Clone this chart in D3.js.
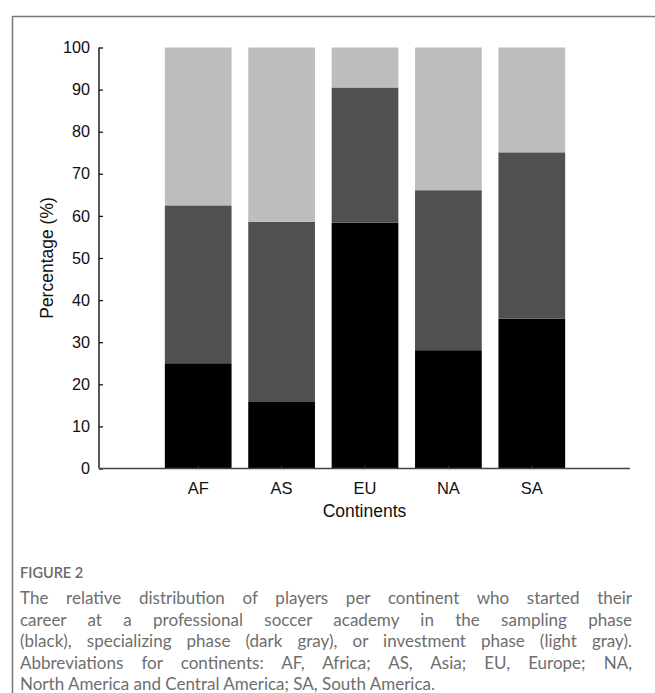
<!DOCTYPE html>
<html>
<head>
<meta charset="utf-8">
<script src="https://cdn.jsdelivr.net/npm/d3@7"></script>
<style>
  html, body { margin: 0; padding: 0; background: #fff; }
  svg { display: block; }
</style>
</head>
<body>
<svg id="chart" width="655" height="693"></svg>
<script>
// ---- Data ----
const continents = ["AF", "AS", "EU", "NA", "SA"];
const samplingPhase = [25.0, 15.8, 58.4, 28.1, 35.6];      // black
const specializingPhase = [37.5, 42.8, 32.1, 38.0, 39.5];  // dark gray
const investmentPhase = [37.5, 41.4, 9.5, 33.9, 24.9];     // light gray
const phaseNames = ["sampling", "specializing", "investment"];
const phaseColors = ["#000000", "#505050", "#bdbdbd"];
const yTicks = [0, 10, 20, 30, 40, 50, 60, 70, 80, 90, 100];
const yLabel = "Percentage (%)";
const xLabel = "Continents";
const figureLabel = "FIGURE 2";
const captionLines = [
  "The relative distribution of players per continent who started their",
  "career at a professional soccer academy in the sampling phase",
  "(black), specializing phase (dark gray), or investment phase (light gray).",
  "Abbreviations for continents: AF, Africa; AS, Asia; EU, Europe; NA,",
  "North America and Central America; SA, South America."
];

const svg = d3.select("#chart");

// frame
svg.append("line").attr("x1", 12).attr("x2", 655).attr("y1", 16.5).attr("y2", 16.5)
  .attr("stroke", "#777").attr("stroke-width", 1.5);
svg.append("line").attr("x1", 12.5).attr("x2", 12.5).attr("y1", 16).attr("y2", 693)
  .attr("stroke", "#777").attr("stroke-width", 1.5);

// scales
const axisLeftX = 99, axisRightX = 630;
const y = d3.scaleLinear().domain([0, 100]).range([468.5, 47.5]);
const x = d3.scaleBand().domain(continents).range([156.5, 573.5]).paddingInner(0.2).paddingOuter(0.1);

// stacked data
const table = continents.map((c, i) => ({
  continent: c,
  sampling: samplingPhase[i],
  specializing: specializingPhase[i],
  investment: investmentPhase[i]
}));
const stack = d3.stack().keys(phaseNames)(table);

const g = svg.append("g");
stack.forEach((layer, li) => {
  g.selectAll(null).data(layer).enter().append("rect")
    .attr("x", d => x(d.data.continent))
    .attr("width", x.bandwidth())
    .attr("y", d => y(d[1]))
    .attr("height", d => y(d[0]) - y(d[1]))
    .attr("fill", phaseColors[li]);
});

// y axis
const yAxis = d3.axisLeft(y).tickValues(yTicks).tickSize(-4).tickPadding(9);
const yg = svg.append("g").attr("transform", `translate(${axisLeftX},0)`).call(yAxis);
yg.select(".domain").attr("d", `M0,${y(100)}V${y(0)}`).attr("stroke", "#111").attr("stroke-width", 1.4);
yg.selectAll(".tick line").attr("stroke", "#111").attr("stroke-width", 1.3);
yg.selectAll(".tick text").attr("font-family", "'Liberation Sans', Arial, sans-serif")
  .attr("font-size", 16.2).attr("fill", "#111");

// x axis
const xAxis = d3.axisBottom(x).tickSize(-3).tickPadding(14);
const xg = svg.append("g").attr("transform", `translate(0,${y(0)})`).call(xAxis);
xg.select(".domain").remove();
xg.append("line").attr("x1", axisLeftX).attr("x2", axisRightX).attr("y1", 0).attr("y2", 0)
  .attr("stroke", "#444").attr("stroke-width", 1.4);
xg.selectAll(".tick line").attr("stroke", "#333");
xg.selectAll(".tick text").attr("font-family", "'Liberation Sans', Arial, sans-serif")
  .attr("font-size", 16.5).attr("fill", "#111");

// axis titles
svg.append("text").attr("x", (axisLeftX + axisRightX) / 2).attr("y", 517)
  .attr("text-anchor", "middle").attr("font-family", "'Liberation Sans', Arial, sans-serif")
  .attr("font-size", 17.5).attr("fill", "#111").text(xLabel);
svg.append("text").attr("transform", `translate(53,${(y(0) + y(100)) / 2}) rotate(-90)`)
  .attr("text-anchor", "middle").attr("font-family", "'Liberation Sans', Arial, sans-serif")
  .attr("font-size", 17.5).attr("fill", "#111").text(yLabel);

// caption
svg.append("text").attr("x", 20).attr("y", 578)
  .attr("font-family", "Lato, 'Open Sans', sans-serif").attr("font-size", 14.5)
  .attr("font-weight", 600).attr("fill", "#6a6a6a").text(figureLabel);

const capLeft = 20, capRight = 632;
let capSize = 17;
const capG = svg.append("g");
const capTexts = captionLines.map((line, i) =>
  capG.append("text").attr("x", capLeft).attr("y", 604 + i * 21.6)
    .attr("font-family", "Lato, 'Open Sans', sans-serif").attr("font-size", capSize)
    .attr("fill", "#6e6e6e").text(line));
// fit font size so that the longest justified line fits
let maxW = d3.max(capTexts.slice(0, 4), t => t.node().getComputedTextLength());
if (maxW > capRight - capLeft - 6) {
  capSize = capSize * (capRight - capLeft - 6) / maxW;
  capTexts.forEach(t => t.attr("font-size", capSize));
}
capTexts.forEach((t, i) => {
  if (i === captionLines.length - 1) return;
  const w = t.node().getComputedTextLength();
  const spaces = (captionLines[i].match(/ /g) || []).length;
  t.attr("word-spacing", (capRight - capLeft - w) / spaces);
});
</script>
</body>
</html>
